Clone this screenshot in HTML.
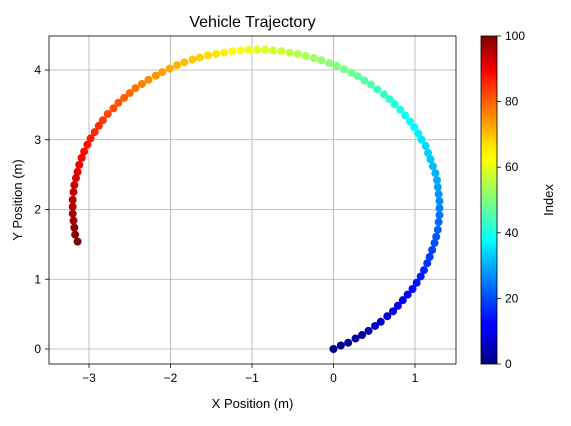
<!DOCTYPE html>
<html><head><meta charset="utf-8"><style>
body{margin:0;background:#fff;}
svg text{font-family:"Liberation Sans",sans-serif;fill:#000;}
</style></head><body>
<svg id="chart" width="571" height="421" xmlns="http://www.w3.org/2000/svg">
<defs><linearGradient id="jet" x1="0" y1="1" x2="0" y2="0">
<stop offset="0" stop-color="#00007f"/><stop offset="0.11" stop-color="#0000ff"/><stop offset="0.125" stop-color="#0000ff"/>
<stop offset="0.34" stop-color="#00d4ff"/><stop offset="0.375" stop-color="#00ffff"/><stop offset="0.5" stop-color="#7fff7f"/>
<stop offset="0.625" stop-color="#ffff00"/><stop offset="0.66" stop-color="#ffea00"/><stop offset="0.875" stop-color="#ff1500"/><stop offset="0.89" stop-color="#ff0000"/><stop offset="1" stop-color="#7f0000"/>
</linearGradient></defs>
<g id="grid"></g><g id="marks"></g><g id="axes"></g>
<text x="252.5" y="27" font-size="16" text-anchor="middle">Vehicle Trajectory</text>
<text x="252.5" y="408" font-size="13" text-anchor="middle">X Position (m)</text>
<text transform="translate(22,200) rotate(-90)" font-size="13" text-anchor="middle">Y Position (m)</text>
<rect x="481" y="36" width="16" height="328" fill="url(#jet)" stroke="#000" stroke-width="0.8"/>
<g id="cbticks"></g>
<text transform="translate(553,200) rotate(-90)" font-size="13" text-anchor="middle">Index</text>
</svg>
<script>
const xs=[-0.00,0.09,0.18,0.27,0.35,0.43,0.51,0.58,0.66,0.73,0.79,0.85,0.91,0.97,1.02,1.07,1.11,1.15,1.18,1.21,1.24,1.26,1.28,1.29,1.30,1.30,1.30,1.29,1.28,1.27,1.25,1.22,1.19,1.16,1.13,1.08,1.04,0.99,0.94,0.88,0.82,0.75,0.69,0.62,0.54,0.46,0.38,0.30,0.22,0.13,0.04,-0.05,-0.15,-0.24,-0.34,-0.44,-0.54,-0.64,-0.74,-0.84,-0.94,-1.04,-1.14,-1.24,-1.34,-1.44,-1.54,-1.64,-1.73,-1.83,-1.92,-2.01,-2.10,-2.18,-2.27,-2.35,-2.43,-2.50,-2.57,-2.64,-2.70,-2.77,-2.83,-2.88,-2.93,-2.98,-3.02,-3.06,-3.09,-3.12,-3.14,-3.16,-3.18,-3.19,-3.20,-3.20,-3.20,-3.19,-3.18,-3.17,-3.14];
const ys=[0.00,0.05,0.09,0.15,0.20,0.26,0.33,0.39,0.47,0.54,0.62,0.70,0.78,0.86,0.95,1.04,1.13,1.23,1.32,1.42,1.52,1.61,1.71,1.82,1.92,2.02,2.12,2.22,2.32,2.42,2.52,2.62,2.72,2.81,2.91,3.00,3.09,3.18,3.26,3.35,3.43,3.51,3.58,3.65,3.72,3.79,3.85,3.91,3.96,4.01,4.06,4.10,4.14,4.17,4.20,4.23,4.25,4.27,4.28,4.29,4.29,4.29,4.28,4.27,4.25,4.23,4.21,4.18,4.15,4.11,4.07,4.02,3.97,3.92,3.86,3.80,3.74,3.67,3.60,3.53,3.45,3.37,3.28,3.20,3.11,3.02,2.93,2.83,2.74,2.64,2.54,2.45,2.35,2.25,2.14,2.04,1.94,1.84,1.74,1.64,1.54];
const xTicks=[-3,-2,-1,0,1];
const yTicks=[0,1,2,3,4];
const cTicks=[0,20,40,60,80,100];
const L=49,R=456,T=36,B=364;
const X=v=>415+(v-1)*81.5, Y=v=>349-v*69.75, C=v=>B-(v/100)*(B-T);
function jet(t){const f=x=>Math.max(0,Math.min(1,x));
 const r=f(1.5-Math.abs(4*t-3)),g=f(1.5-Math.abs(4*t-2)),b=f(1.5-Math.abs(4*t-1));
 return `rgb(${Math.round(r*255)},${Math.round(g*255)},${Math.round(b*255)})`;}
const NS="http://www.w3.org/2000/svg";
function mk(tag,attrs,parent){const e=document.createElementNS(NS,tag);for(const k in attrs)e.setAttribute(k,attrs[k]);document.getElementById(parent).appendChild(e);return e;}
const grid=document.getElementById('grid');
xTicks.forEach(t=>{
 const g=mk('line',{x1:X(t),x2:X(t),y1:T,y2:B,stroke:'#b0b0b0','stroke-width':0.8},'grid');
 
 
 const tk=mk('line',{x1:X(t),x2:X(t),y1:B,y2:B+4,stroke:'#000','stroke-width':0.8},'axes');
 
 
 const tx=mk('text',{x:X(t),y:B+18,'font-size':12,'text-anchor':'middle'},'axes');
 
 
 tx.textContent=(t<0?'\u2212'+(-t):t);
});
yTicks.forEach(t=>{
 const g=mk('line',{x1:L,x2:R,y1:Y(t),y2:Y(t),stroke:'#b0b0b0','stroke-width':0.8},'grid');
 
 
 const tk=mk('line',{x1:L-4,x2:L,y1:Y(t),y2:Y(t),stroke:'#000','stroke-width':0.8},'axes');
 
 
 const tx=mk('text',{x:L-8,y:Y(t)+4,'font-size':12,'text-anchor':'end'},'axes');
 
 
 tx.textContent=t;
});
xs.forEach((v,i)=>{
 const c=mk('circle',{cx:X(v),cy:Y(ys[i]),r:4,fill:jet(i/(xs.length-1))},'marks');
 
 
});
const fr=mk('rect',{x:L,y:T,width:R-L,height:B-T,fill:'none',stroke:'#000','stroke-width':0.8},'axes');


cTicks.forEach(t=>{
 const tk=mk('line',{x1:497,x2:501,y1:C(t),y2:C(t),stroke:'#000','stroke-width':0.8},'cbticks');
 
 
 const tx=mk('text',{x:505,y:C(t)+4,'font-size':12},'cbticks');
 
 
 tx.textContent=t;
});
</script>
</body></html>
